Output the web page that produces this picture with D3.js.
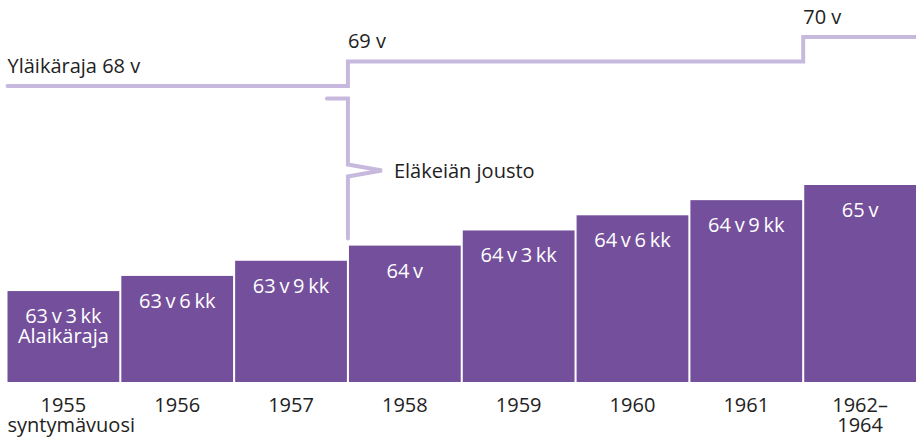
<!DOCTYPE html>
<html>
<head>
<meta charset="utf-8">
<script src="https://cdn.jsdelivr.net/npm/d3@7"></script>
<style>
  html, body { margin: 0; padding: 0; background: #fff; }
  svg { display: block; }
  text { font-family: "Open Sans", "Noto Sans", sans-serif; }
</style>
</head>
<body>
<svg id="chart" width="916" height="438"></svg>
<script>
// ---- data ----
const categories = ["1955", "1956", "1957", "1958", "1959", "1960", "1961", "1962–1964"];
const yearLabelLines = [["1955", "syntymävuosi"], ["1956"], ["1957"], ["1958"], ["1959"], ["1960"], ["1961"], ["1962–", "1964"]];
const lowerLimitMonths = [759, 762, 765, 768, 771, 774, 777, 780]; // 63 v 3 kk ... 65 v
const barLabels = [["63 v 3 kk", "Alaikäraja"], ["63 v 6 kk"], ["63 v 9 kk"], ["64 v"], ["64 v 3 kk"], ["64 v 6 kk"], ["64 v 9 kk"], ["65 v"]];
const upperLimitYears = [68, 68, 68, 69, 69, 69, 69, 70];
const upperLabels = [{ i: 0, text: "Yläikäraja 68 v" }, { i: 3, text: "69 v" }, { i: 7, text: "70 v" }];
const flexLabel = "Eläkeiän jousto";

// ---- layout ----
const W = 916, H = 438;
const barColor = "#744f9b";
const lineColor = "#c7b9dd";
const textColor = "#222222";

const svg = d3.select("#chart");

const x = d3.scaleBand().domain(categories).range([7.5, 916]).paddingInner(0.018);
const gap = x.step() - x.bandwidth();
const y = d3.scaleLinear().domain([741, 780]).range([382, 185]);
const yUp = d3.scaleLinear().domain([68, 70]).range([86, 37]);

// bars
svg.append("g").selectAll("rect")
  .data(categories)
  .join("rect")
  .attr("x", d => x(d))
  .attr("width", x.bandwidth())
  .attr("y", (d, i) => y(lowerLimitMonths[i]))
  .attr("height", (d, i) => y.range()[0] - y(lowerLimitMonths[i]))
  .attr("fill", barColor);

// bar labels (one text element per line)
const barLabelRows = [];
categories.forEach((c, i) => barLabels[i].forEach((ln, j) => barLabelRows.push({ c, i, j, ln })));
svg.append("g").selectAll("text")
  .data(barLabelRows)
  .join("text")
  .attr("text-anchor", "middle")
  .attr("fill", "#ffffff")
  .attr("font-size", 20)
  .attr("word-spacing", "-1.5px")
  .attr("x", d => x(d.c) + x.bandwidth() / 2)
  .attr("y", d => y(lowerLimitMonths[d.i]) + 32 + d.j * 20)
  .text(d => d.ln);

// year axis labels
const yearRows = [];
categories.forEach((c, i) => yearLabelLines[i].forEach((ln, j) => yearRows.push({ c, i, j, ln })));
svg.append("g").selectAll("text")
  .data(yearRows)
  .join("text")
  .attr("fill", textColor)
  .attr("font-size", 20)
  .attr("text-anchor", d => (d.i === 0 && d.j === 1) ? "start" : "middle")
  .attr("x", d => (d.i === 0 && d.j === 1) ? x(d.c) : x(d.c) + x.bandwidth() / 2)
  .attr("y", d => 411.5 + d.j * 20.5)
  .text(d => d.ln);

// upper limit step line
const pts = categories.map((c, i) => [i === 0 ? x(c) : x(c) - gap / 2, yUp(upperLimitYears[i])]);
pts.push([W, yUp(upperLimitYears[upperLimitYears.length - 1])]);
svg.append("path")
  .attr("d", d3.line().curve(d3.curveStepAfter)(pts))
  .attr("fill", "none")
  .attr("stroke", lineColor)
  .attr("stroke-width", 4)
  .attr("stroke-linecap", "round")
  .attr("stroke-linejoin", "miter");

// upper labels
svg.append("g").selectAll("text")
  .data(upperLabels)
  .join("text")
  .attr("x", d => d.i === 0 ? x(categories[0]) : x(categories[d.i]) - gap / 2)
  .attr("y", d => yUp(upperLimitYears[d.i]) - 13.5)
  .attr("fill", textColor)
  .attr("font-size", 20)
  .text(d => d.text);

// flexibility bracket
const bx = x(categories[3]) - gap / 2;
const bTop = yUp(upperLimitYears[0]) + 12.5;
const bBot = y(lowerLimitMonths[3]) - 7;
const bMid = 170.5;
const bracket = d3.path();
bracket.moveTo(bx - 21, bTop);
bracket.lineTo(bx, bTop);
bracket.lineTo(bx, bMid - 6);
bracket.lineTo(bx + 34, bMid);
bracket.lineTo(bx, bMid + 6);
bracket.lineTo(bx, bBot);
svg.append("path")
  .attr("d", bracket.toString())
  .attr("fill", "none")
  .attr("stroke", lineColor)
  .attr("stroke-width", 4)
  .attr("stroke-linecap", "round")
  .attr("stroke-linejoin", "miter");

svg.append("text")
  .attr("x", bx + 46)
  .attr("y", bMid + 7.5)
  .attr("fill", textColor)
  .attr("font-size", 20)
  .text(flexLabel);
</script>
</body>
</html>
